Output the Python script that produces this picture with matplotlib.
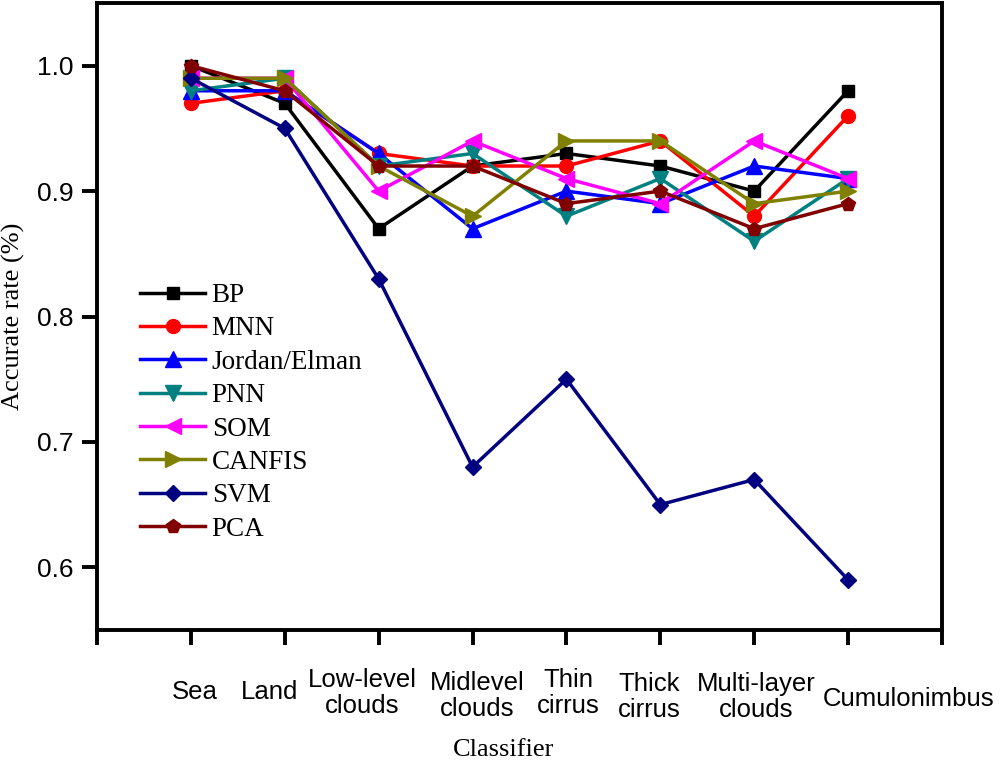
import matplotlib
matplotlib.use("Agg")
import matplotlib.pyplot as plt

categories = ["Sea", "Land", "Low-level\nclouds", "Midlevel\nclouds", "Thin\ncirrus",
              "Thick\ncirrus", "Multi-layer\nclouds", "Cumulonimbus"]
x_pos = [1, 2, 3, 4, 5, 6, 7, 8]

BP      = [1.00, 0.97, 0.87, 0.92, 0.93, 0.92, 0.90, 0.98]
MNN     = [0.97, 0.98, 0.93, 0.92, 0.92, 0.94, 0.88, 0.96]
Jordan  = [0.98, 0.98, 0.93, 0.87, 0.90, 0.89, 0.92, 0.91]
PNN     = [0.98, 0.99, 0.92, 0.93, 0.88, 0.91, 0.86, 0.91]
SOM     = [0.99, 0.99, 0.90, 0.94, 0.91, 0.89, 0.94, 0.91]
CANFIS  = [0.99, 0.99, 0.92, 0.88, 0.94, 0.94, 0.89, 0.90]
SVM     = [0.99, 0.95, 0.83, 0.68, 0.75, 0.65, 0.67, 0.59]
PCA     = [1.00, 0.98, 0.92, 0.92, 0.89, 0.90, 0.87, 0.89]

series_names = ["BP", "MNN", "Jordan/Elman", "PNN", "SOM", "CANFIS", "SVM", "PCA"]
series_vals = [BP, MNN, Jordan, PNN, SOM, CANFIS, SVM, PCA]
colors = ["#000000", "#FF0000", "#0000FF", "#008080", "#FF00FF", "#808000", "#000080", "#800000"]
markers = ["s", "o", "^", "v", "<", ">", "D", "p"]
msizes = [9, 10, 11, 11, 11, 11, 8.5, 10.5]

y_ticks = [0.6, 0.7, 0.8, 0.9, 1.0]

fig = plt.figure(figsize=(10, 7.62), dpi=100)
ax = fig.add_axes([0.097, 1 - 630 / 762, 0.845, (630 - 3) / 762])

for name, vals, c, m, ms in zip(series_names, series_vals, colors, markers, msizes):
    ax.plot(x_pos, vals, color=c, marker=m, markersize=ms, linewidth=2.5,
            markeredgecolor=c, label=name)

ax.set_xlim(0, 9)
ax.set_ylim(0.55, 1.05)
ax.set_xticks(range(0, 10))
ax.set_xticklabels([])
ax.set_yticks(y_ticks)
ax.set_yticklabels(["%.1f" % v for v in y_ticks], fontfamily="Liberation Sans", fontsize=19)
ax.tick_params(axis="both", direction="out", length=11, width=2.8, pad=6)
for sp in ax.spines.values():
    sp.set_linewidth(2.8)

# category labels below the axis
label_px = [(195, 692), (270, 692), (362, 693), (477, 696), (568, 693),
            (649, 697), (756, 697), (909, 699)]
for lab, (px, py) in zip(categories, label_px):
    fig.text(px / 1000, 1 - py / 762, lab, ha="center", va="center",
             fontfamily="Liberation Sans", fontsize=18.5, linespacing=1.1)

fig.text(504 / 1000, 1 - 750 / 762, "Classifier", ha="center", va="center",
         fontfamily="Liberation Serif", fontsize=19)
fig.text(13 / 1000, 1 - 316 / 762, "Accurate rate (%)", ha="center", va="center",
         rotation=90, fontfamily="Liberation Serif", fontsize=19)

leg = ax.legend(loc="upper left", bbox_to_anchor=((140 - 97) / 845, (630 - 283) / 627),
                frameon=False, prop={"family": "Liberation Serif", "size": 19.5},
                handlelength=2.4, handletextpad=0.25, labelspacing=0.31,
                borderaxespad=0, borderpad=0)

fig.savefig("out.png", dpi=100)
